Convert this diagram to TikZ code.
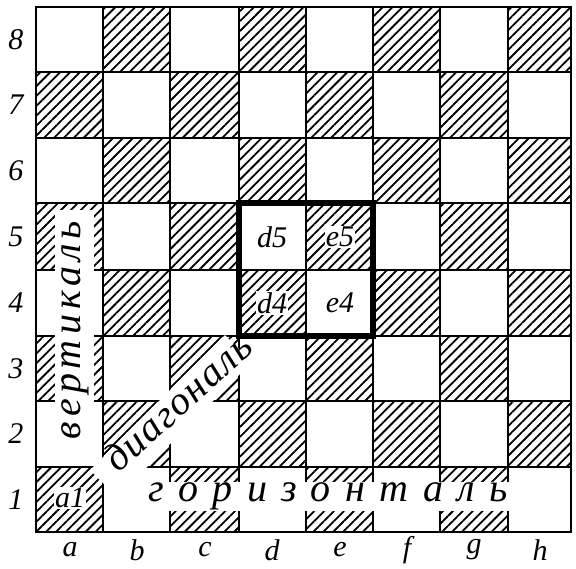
\documentclass[tikz,border=0pt]{standalone}
\usepackage{fontspec}
\setmainfont{Liberation Serif}
\newfontfamily\horizfont[LetterSpace=36]{Liberation Serif}
\newfontfamily\vertfont[LetterSpace=13]{Liberation Serif}
\newfontfamily\diagfont[LetterSpace=4]{Liberation Serif}
\usetikzlibrary{patterns.meta}
\begin{document}
\begin{tikzpicture}[x=1pt, y=-1pt,
    dark/.style={pattern={Lines[angle=45, distance=7pt, line width=1.8pt]}},
    boardline/.style={line width=2.4pt},
    band/.style={fill=white},
    coordlabel/.style={font=\fontsize{30}{30}\selectfont\itshape},
    sqlabel/.style={font=\fontsize{30}{30}\selectfont\itshape, fill=white, inner sep=1pt},
    bandtext/.style={font=\itshape\fontsize{40}{40}\selectfont, inner sep=0pt}
]
    \useasboundingbox (0,0) rectangle (576,568);

    \foreach \xl/\xr [count=\c] in {36/103,103/170,170/239,239/306,306/373,373/440,440/508,508/571}
      \foreach \yb/\yt [count=\r] in {532/467,467/401,401/336,336/270,270/203,203/138,138/72,72/7}
      {
        \pgfmathparse{int(mod(\c+\r,2))}
        \ifnum\pgfmathresult=0 \fill[dark] (\xl,\yb) rectangle (\xr,\yt); \fi
      }

    \foreach \x in {103,170,239,306,373,440,508} \draw[boardline] (\x,7) -- (\x,532);
    \foreach \y in {72,138,203,270,336,401,467} \draw[boardline] (36,\y) -- (571,\y);

    \fill[band] (55,210) rectangle (94,465);
    \fill[band] (104.5,482) rectangle (569,511);
    \fill[band] (90,470) -- (117,497) -- (252,362) -- (225,335) -- cycle;

    \draw[boardline] (36,7) rectangle (571,532);
    \draw[line width=5.5pt] (239,203) rectangle (373,336);

    \foreach \n/\y in {8/40,7/105,6/171,5/237,4/303,3/369,2/434,1/500}
        \node[coordlabel] (rank\n) at (16,\y) {\n};
    \foreach \f/\x in {a/70,b/137,c/205,d/272,e/340,f/407,g/474,h/540}
        \node[coordlabel] (file\f) at (\x,550) {\f};

    \node[sqlabel] (a1) at (70,498) {a1};
    \node[sqlabel] (d5) at (272,237) {d5};
    \node[sqlabel] (e5) at (340,237) {e5};
    \node[sqlabel] (d4) at (272,303) {d4};
    \node[sqlabel] (e4) at (340,303) {e4};

    \node[bandtext, rotate=90] (vert) at (75,330) {\vertfont вертикаль};
    \node[bandtext] (horiz) at (328,496) {\horizfont горизонталь};
    \node[bandtext, rotate=42] (diag) at (178,402) {\diagfont диагональ};
\end{tikzpicture}
\end{document}
